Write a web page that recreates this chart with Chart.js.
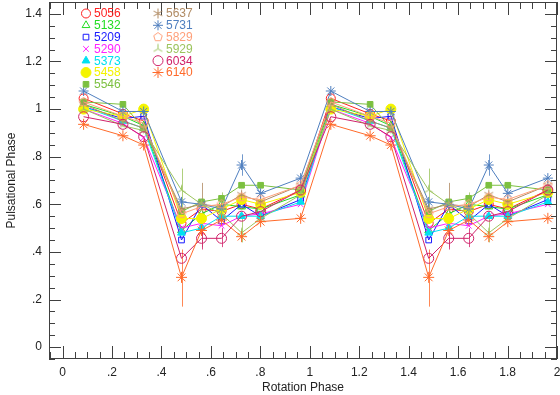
<!DOCTYPE html>
<html>
<head>
<meta charset="utf-8">
<script src="https://cdn.jsdelivr.net/npm/chart.js@4/dist/chart.umd.min.js"></script>
<style>
  html, body { margin: 0; padding: 0; background: #fff; }
  #wrap { width: 560px; height: 395px; }
</style>
</head>
<body>
<div id="wrap"><canvas id="phaseChart" width="560" height="395"></canvas></div>
<script>
// rotation phases of the observations (repeated once more at +1)
const phases = [0.085, 0.244, 0.328, 0.481, 0.562, 0.643, 0.724, 0.801, 0.963];
const seriesNames = ['5056', '5132', '5209', '5290', '5373', '5458', '5546',
                     '5637', '5731', '5829', '5929', '6034', '6140'];

const v5056 = [1.045, 0.98, 0.95, 0.52, 0.58, 0.57, 0.60, 0.58, 0.66];
const v5132 = [1.02, 0.97, 0.93, 0.49, 0.56, 0.60, 0.59, 0.58, 0.64];
const v5209 = [1.01, 0.96, 0.97, 0.45, 0.60, 0.53, 0.60, 0.55, 0.62];
const v5290 = [1.00, 0.94, 0.88, 0.50, 0.52, 0.51, 0.55, 0.56, 0.60];
const v5373 = [1.01, 0.95, 0.92, 0.48, 0.50, 0.55, 0.55, 0.55, 0.61];
const v5458 = [1.00, 0.97, 1.00, 0.54, 0.54, 0.58, 0.62, 0.60, 0.65];
const v5546 = [1.03, 1.02, 0.92, 0.57, 0.61, 0.625, 0.68, 0.68, 0.66];
const v5637 = [1.02, 0.95, 0.92, 0.58, 0.60, 0.59, 0.64, 0.61, 0.68];
const v5731 = [1.076, 0.99, 0.99, 0.61, 0.60, 0.58, 0.765, 0.646, 0.71];
const v5829 = [1.03, 0.97, 0.94, 0.56, 0.59, 0.60, 0.63, 0.62, 0.68];
const v5929 = [1.00, 0.93, 0.91, 0.66, 0.60, 0.56, 0.48, 0.54, 0.64];
const v6034 = [0.968, 0.936, 0.884, 0.373, 0.457, 0.457, 0.55, 0.569, 0.66];
const v6140 = [0.936, 0.888, 0.849, 0.293, 0.49, 0.534, 0.464, 0.527, 0.541];
const seriesValues = [v5056, v5132, v5209, v5290, v5373, v5458, v5546,
                      v5637, v5731, v5829, v5929, v6034, v6140];

// error bars: [series index, phase index, low, high]
const errorBars = [
  [10, 3, 0.57, 0.75],
  [12, 3, 0.17, 0.41],
  [7, 4, 0.42, 0.69],
  [11, 4, 0.41, 0.50],
  [10, 5, 0.53, 0.65],
  [11, 5, 0.42, 0.50],
  [8, 6, 0.72, 0.81],
  [10, 6, 0.44, 0.56]
];

// look
const colors = ['#ff2020', '#22dd22', '#1a1aff', '#ff22ff', '#00e0f0', '#f4f400', '#7cc040',
                '#b08a62', '#4f7fbf', '#ffa07a', '#9cc45e', '#d0226a', '#ff6a2a'];
const FONT = "'Liberation Sans', Arial, Helvetica, sans-serif";

function makeMarker(kind, color, r) {
  const c = document.createElement('canvas');
  const s = Math.ceil(2 * r + 3);
  c.width = s; c.height = s;
  const g = c.getContext('2d');
  g.strokeStyle = color;
  g.lineWidth = 1;
  g.translate(s / 2, s / 2);
  g.beginPath();
  if (kind === 'pent') {
    for (let k = 0; k < 5; k++) {
      const a = -Math.PI / 2 + k * 2 * Math.PI / 5;
      const px = r * Math.cos(a), py = r * Math.sin(a);
      if (k === 0) g.moveTo(px, py); else g.lineTo(px, py);
    }
    g.closePath();
  } else if (kind === 'tri3') {
    // upside-down Y
    g.moveTo(0, 0); g.lineTo(0, -r);
    g.moveTo(0, 0); g.lineTo(-r * 0.87, r * 0.5);
    g.moveTo(0, 0); g.lineTo(r * 0.87, r * 0.5);
  } else if (kind === 'ast6') {
    for (let k = 0; k < 3; k++) {
      const a = Math.PI / 2 + k * Math.PI / 3;
      g.moveTo(r * Math.cos(a), r * Math.sin(a));
      g.lineTo(-r * Math.cos(a), -r * Math.sin(a));
    }
  }
  g.stroke();
  return c;
}

const pointStyles = ['circle', 'triangle', 'rect', 'crossRot', 'triangle', 'circle', 'rect',
  makeMarker('ast6', colors[7], 5), 'star', makeMarker('pent', colors[9], 4.5),
  makeMarker('tri3', colors[10], 5), 'circle', 'star'];
const filled = [false, false, false, false, true, true, true, false, false, false, false, false, false];
const radii = [4.5, 4.5, 4, 4, 4.5, 5, 4, 5, 5, 4.5, 5, 5, 5.5];

const datasets = seriesNames.map((name, i) => {
  const vals = seriesValues[i];
  const pts = phases.map((p, j) => ({x: p, y: vals[j]}))
    .concat(phases.map((p, j) => ({x: p + 1, y: vals[j]})));
  return {
    label: name,
    data: pts,
    borderColor: colors[i],
    backgroundColor: filled[i] ? colors[i] : 'rgba(0,0,0,0)',
    pointBorderColor: colors[i],
    pointBackgroundColor: filled[i] ? colors[i] : 'rgba(0,0,0,0)',
    pointStyle: pointStyles[i],
    pointRadius: radii[i],
    pointBorderWidth: 1,
    borderWidth: 1,
    tension: 0,
    order: seriesNames.length - i
  };
});

const frameColor = '#404040';

const framePlugin = {
  id: 'frame',
  beforeDatasetsDraw(chart) {
    const {ctx, scales} = chart;
    ctx.save();
    // error bars
    ctx.lineWidth = 1;
    ctx.globalAlpha = 0.8;
    errorBars.forEach(([si, pi, lo, hi]) => {
      ctx.strokeStyle = colors[si];
      [0, 1].forEach(off => {
        const x = Math.round(scales.x.getPixelForValue(phases[pi] + off)) + 0.5;
        ctx.beginPath();
        ctx.moveTo(x, scales.y.getPixelForValue(lo));
        ctx.lineTo(x, scales.y.getPixelForValue(hi));
        ctx.stroke();
      });
    });
    ctx.restore();
  },
  afterDraw(chart) {
    const {ctx, chartArea: a, scales} = chart;
    ctx.save();
    ctx.strokeStyle = frameColor;
    ctx.lineWidth = 1;
    ctx.strokeRect(a.left + 0.5, a.top + 0.5, a.right - a.left - 1, a.bottom - a.top - 1);
    ctx.beginPath();
    // x ticks, every 0.05, major each 0.2
    for (let k = -1; k <= 40; k++) {
      const v = k * 0.05;
      if (v < scales.x.min - 1e-9 || v > scales.x.max + 1e-9) continue;
      const x = Math.round(scales.x.getPixelForValue(v)) + 0.5;
      const len = k % 4 === 0 ? 13 : 7;
      ctx.moveTo(x, a.bottom); ctx.lineTo(x, a.bottom - len);
      ctx.moveTo(x, a.top); ctx.lineTo(x, a.top + len);
    }
    for (let k = -1; k <= 29; k++) {
      const v = k * 0.05;
      if (v < scales.y.min - 1e-9 || v > scales.y.max + 1e-9) continue;
      const y = Math.round(scales.y.getPixelForValue(v)) + 0.5;
      const len = k % 4 === 0 ? 12 : 6;
      ctx.moveTo(a.left, y); ctx.lineTo(a.left + len, y);
      ctx.moveTo(a.right, y); ctx.lineTo(a.right - len, y);
    }
    ctx.stroke();

    // legend in two columns
    ctx.font = '12px ' + FONT;
    ctx.textBaseline = 'middle';
    ctx.textAlign = 'left';
    seriesNames.forEach((name, i) => {
      const col = i < 7 ? 0 : 1;
      const row = i % 7;
      const mx = a.left + 37 + col * 72;
      const my = a.top + 11.5 + row * 11.8;
      ctx.strokeStyle = colors[i];
      ctx.fillStyle = filled[i] ? colors[i] : 'rgba(0,0,0,0)';
      ctx.lineWidth = 1;
      if (Chart.helpers && Chart.helpers.drawPoint) {
        Chart.helpers.drawPoint(ctx, {pointStyle: pointStyles[i], radius: radii[i], rotation: 0, borderWidth: 1}, mx, my);
      }
      ctx.fillStyle = colors[i];
      ctx.fillText(name, mx + 8, my + 0.5);
    });
    ctx.restore();
  }
};

function fmtTick(v) {
  const r = Math.round(v * 10) / 10;
  let s = String(r);
  if (s.startsWith('0.')) s = s.slice(1);
  return s;
}

// fixed axis boxes, no extra label padding
function fixX(s) { s.height = 36; s.paddingLeft = 0; s.paddingRight = 0; }
function fixY(s) { s.width = 49; s.paddingTop = 0; s.paddingBottom = 0; }

new Chart(document.getElementById('phaseChart'), {
  type: 'line',
  data: {datasets: datasets},
  options: {
    responsive: false,
    animation: false,
    layout: {autoPadding: false, padding: {top: 2, right: 3, left: 0, bottom: 0}},
    plugins: {legend: {display: false}, tooltip: {enabled: false}},
    scales: {
      x: {
        type: 'linear',
        min: -0.055,
        max: 2.0,
        afterFit: fixX,
        grid: {display: false, drawTicks: false},
        border: {display: false},
        ticks: {
          stepSize: 0.2, includeBounds: false, autoSkip: false, maxRotation: 0,
          padding: 6, color: '#222', font: {family: FONT, size: 12},
          callback: fmtTick
        },
        title: {display: true, text: 'Rotation Phase', color: '#222',
                font: {family: FONT, size: 12}, padding: {top: 0, bottom: 0}}
      },
      y: {
        type: 'linear',
        min: -0.05,
        max: 1.45,
        afterFit: fixY,
        grid: {display: false, drawTicks: false},
        border: {display: false},
        ticks: {
          stepSize: 0.2, includeBounds: false, autoSkip: false,
          padding: 7, color: '#222', font: {family: FONT, size: 12},
          callback: fmtTick
        },
        title: {display: true, text: 'Pulsational Phase', color: '#222',
                font: {family: FONT, size: 12}, padding: {top: 4, bottom: 4}}
      }
    }
  },
  plugins: [framePlugin]
});
</script>
</body>
</html>
